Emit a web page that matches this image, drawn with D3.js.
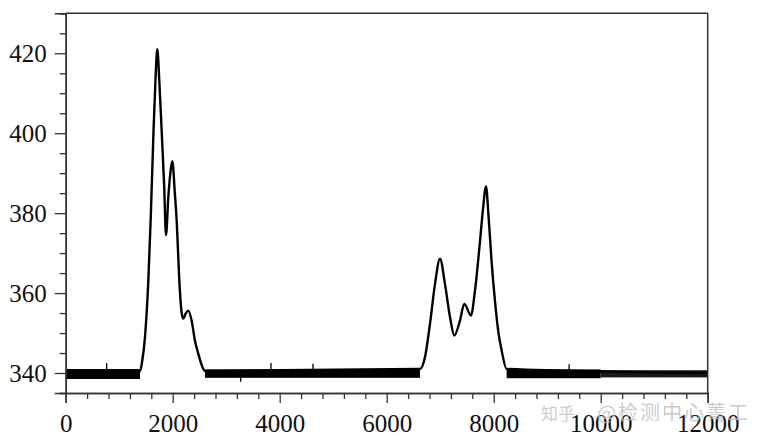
<!DOCTYPE html>
<html>
<head>
<meta charset="utf-8">
<script src="https://cdn.jsdelivr.net/npm/d3@7"></script>
<style>
  html, body { margin: 0; padding: 0; background: #fff; }
  svg { display: block; }
</style>
</head>
<body>
<svg id="chart" width="771" height="444"></svg>
<script>
// ---- data ----
const curveX = [0, 1390, 1430, 1482, 1544, 1590, 1640, 1680, 1712, 1750, 1794, 1840, 1875, 1918, 1960, 1993, 2040, 2075, 2124, 2168, 2198, 2240, 2292, 2355, 2417, 2479, 2542, 2604,
                6622, 6716, 6809, 6903, 6996, 7089, 7183, 7263, 7369, 7450, 7575, 7650, 7744, 7800, 7856, 7900, 7960, 8024, 8090, 8149, 8242, 12000];
const curveY = [340, 340.5, 343, 349, 363, 379, 400, 414, 421, 413, 400.5, 387, 374.5, 384, 390.5, 393, 385, 378, 363, 355, 353.6, 354.8, 355.6, 353, 348, 344.8, 342, 340.5,
                341, 344, 352.3, 362.3, 368.6, 362.3, 354, 349.4, 353.1, 357.3, 354.4, 360.6, 373, 381, 386.7, 380, 368, 358, 350, 345.6, 341, 340];
// baseline noise envelope segments
const noiseStart = [0, 2604, 8242, 10000];
const noiseEnd   = [1390, 6622, 10000, 12000];
const noiseLow   = [338.5, 338.8, 338.7, 338.9];
const noiseHigh  = [341.0, 340.9, 340.9, 340.7];
// isolated noise spikes
const spikeX = [766, 3271, 3837, 4622, 9410];
const spikeY = [342.5, 337.8, 342.5, 342.3, 342.2];
// axes
const xTicks = [0, 2000, 4000, 6000, 8000, 10000, 12000];
const yTicks = [340, 360, 380, 400, 420];
const xDomain = [0, 12000];
const yDomain = [335, 430];
const watermarkA = "知乎";
const watermarkB = "@检测中心菁工";

// ---- drawing ----
(function () {
const svg = d3.select("#chart");
const pLeft = 65.7, pRight = 707.7, pTop = 13.3, pBottom = 393;
const x = d3.scaleLinear().domain(xDomain).range([pLeft, pRight]);
const y = d3.scaleLinear().domain(yDomain).range([pBottom, pTop]);

const axisColor = "#333";
const serif = '"Liberation Serif", "Times New Roman", serif';

// noise band
const segs = noiseStart.map((s, i) => ({x0: s, x1: noiseEnd[i], lo: noiseLow[i], hi: noiseHigh[i], i}));
svg.append("g").selectAll("rect").data(segs).join("rect")
  .attr("x", d => x(d.x0))
  .attr("width", d => x(d.x1) - x(d.x0))
  .attr("y", d => y(d.hi))
  .attr("height", d => y(d.lo) - y(d.hi))
  .attr("fill", d => d.i === 3 ? "#1a1a1a" : "#000");

// spikes
svg.append("g").selectAll("line").data(spikeX.map((s, i) => ({x: s, v: spikeY[i]}))).join("line")
  .attr("x1", d => x(d.x)).attr("x2", d => x(d.x))
  .attr("y1", y(340)).attr("y2", d => y(d.v))
  .attr("stroke", "#000").attr("stroke-width", 1.3);

// curve
const pts = curveX.map((v, i) => [v, curveY[i]]);
const line = d3.line().x(d => x(d[0])).y(d => y(d[1])).curve(d3.curveMonotoneX);
svg.append("path").datum(pts)
  .attr("d", line)
  .attr("fill", "none")
  .attr("stroke", "#000")
  .attr("stroke-width", 2.4)
  .attr("stroke-linejoin", "round");

// frame (top & right)
svg.append("line").attr("x1", pLeft).attr("x2", pRight).attr("y1", pTop).attr("y2", pTop)
  .attr("stroke", axisColor).attr("stroke-width", 1.5);
svg.append("line").attr("x1", pRight).attr("x2", pRight).attr("y1", pTop).attr("y2", pBottom)
  .attr("stroke", axisColor).attr("stroke-width", 1.5);

// minor ticks
const xMinor = d3.range(xDomain[0], xDomain[1] + 1, 400).filter(v => !xTicks.includes(v));
const yMinor = d3.range(yDomain[0], yDomain[1] + 1, 5).filter(v => !yTicks.includes(v));

const gx = svg.append("g").attr("transform", `translate(0,${pBottom})`);
gx.call(d3.axisBottom(x).tickValues(xMinor).tickSize(6).tickFormat(""));
gx.append("g").call(d3.axisBottom(x).tickValues(xTicks).tickSize(10).tickPadding(11).tickFormat(d3.format("d")));
const gy = svg.append("g").attr("transform", `translate(${pLeft},0)`);
gy.call(d3.axisLeft(y).tickValues(yMinor).tickSize(6).tickFormat(""));
gy.append("g").call(d3.axisLeft(y).tickValues(yTicks).tickSize(11).tickPadding(8).tickFormat(d3.format("d")));

[gx, gy].forEach(g => {
  g.selectAll(".domain").attr("stroke", axisColor).attr("stroke-width", 1.5);
  g.selectAll(".tick line").attr("stroke", axisColor).attr("stroke-width", 1.3);
  g.selectAll(".tick text")
    .style("font-family", serif)
    .style("font-size", "25px")
    .style("fill", "#111");
});

// watermark
const wm = svg.append("text")
  .attr("x", 541).attr("y", 420)
  .style("font-family", '"Noto Sans CJK SC", sans-serif')
  .style("fill", "#c2c2c2").style("fill-opacity", 0.85);
wm.append("tspan").style("font-size", "17px").text(watermarkA);
wm.append("tspan").attr("dx", 22).style("font-size", "20px").attr("letter-spacing", 2).text(watermarkB);
})();
</script>
</body>
</html>
